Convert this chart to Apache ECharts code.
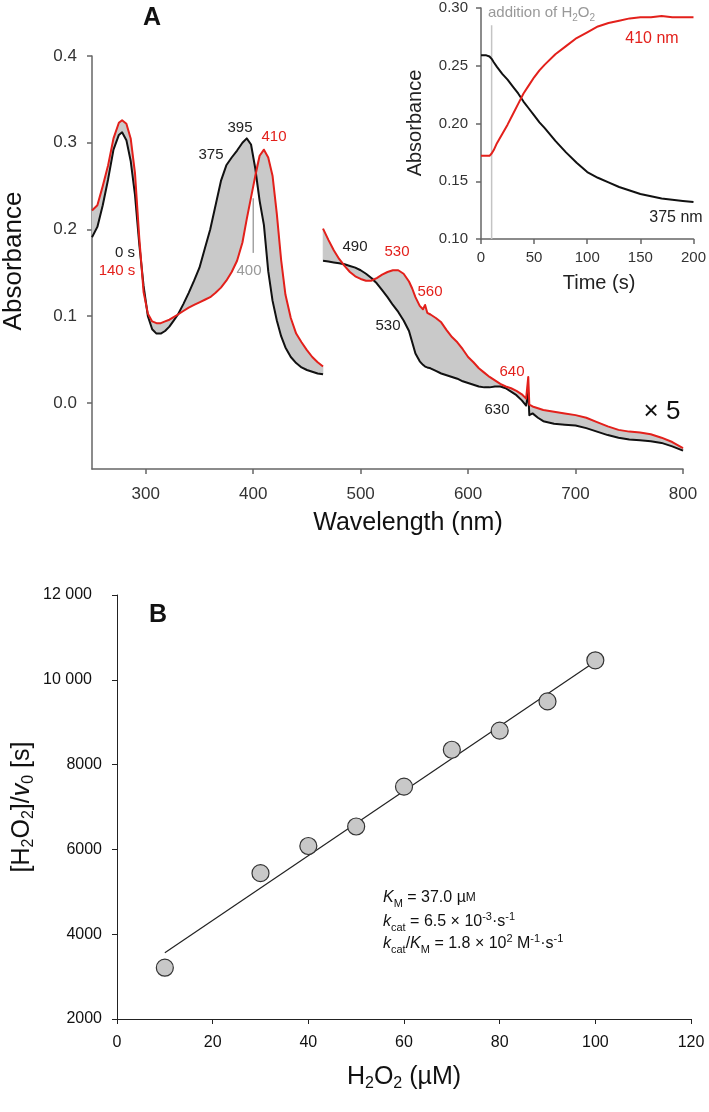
<!DOCTYPE html>
<html><head><meta charset="utf-8">
<script src="https://cdn.jsdelivr.net/npm/echarts@6/dist/echarts.min.js"></script>
<style>html,body{margin:0;padding:0;background:#fff}#c{width:709px;height:1112px}</style>
</head><body><div id="c"></div>
<script>
// ---------- Panel A: spectra (left section, 250-465 nm) ----------
const wlLeft = [250,255,260,265,270,275,278,282,286,290,294,298,302,306,310,314,318,322,326,330,
  335,340,345,350,355,360,365,370,375,380,385,390,394,398,402,406,410,414,418,422,426,430,
  435,440,445,450,455,460,465];
const black0sLeft = [0.191,0.203,0.228,0.258,0.292,0.309,0.312,0.303,0.279,0.240,0.183,0.135,0.100,0.085,0.080,0.080,0.083,0.088,0.095,0.102,
  0.114,0.127,0.141,0.156,0.178,0.200,0.228,0.256,0.274,0.283,0.291,0.300,0.305,0.298,0.270,0.233,0.205,0.152,0.118,0.095,0.077,0.064,
  0.053,0.046,0.041,0.038,0.036,0.034,0.033];
const red140sLeft = [0.222,0.228,0.250,0.274,0.305,0.323,0.326,0.322,0.305,0.265,0.190,0.128,0.103,0.094,0.092,0.092,0.094,0.096,0.099,0.102,
  0.106,0.110,0.113,0.116,0.119,0.122,0.127,0.133,0.141,0.151,0.164,0.185,0.212,0.237,0.262,0.285,0.292,0.283,0.262,0.218,0.165,0.125,
  0.098,0.080,0.070,0.061,0.053,0.047,0.042];
// ---------- Panel A: spectra (right section, x5, 465-800 nm) ----------
const wlRight = [465,470,475,480,485,490,495,500,505,510,515,520,525,530,535,540,545,548,551,555,558,560,562,
  565,570,575,580,585,590,595,600,605,610,615,620,625,630,635,640,645,650,654,656,657,660,665,670,
  680,690,700,710,720,730,740,750,760,770,780,790,800];
const black0sRight = [0.164,0.163,0.162,0.161,0.160,0.158,0.156,0.153,0.149,0.144,0.138,0.130,0.122,0.113,0.105,0.095,0.083,0.070,0.057,0.048,0.044,0.042,0.041,
  0.040,0.037,0.034,0.032,0.030,0.028,0.025,0.023,0.021,0.019,0.018,0.018,0.019,0.019,0.017,0.013,0.009,0.003,-0.003,0.012,-0.014,-0.012,-0.017,-0.021,
  -0.024,-0.025,-0.026,-0.029,-0.033,-0.037,-0.040,-0.042,-0.043,-0.044,-0.046,-0.050,-0.055];
const red140sRight = [0.201,0.188,0.176,0.166,0.158,0.151,0.146,0.143,0.141,0.141,0.144,0.148,0.151,0.153,0.153,0.149,0.140,0.132,0.122,0.112,0.108,0.113,0.104,
  0.102,0.098,0.093,0.084,0.076,0.070,0.062,0.053,0.047,0.040,0.035,0.030,0.026,0.022,0.019,0.017,0.014,0.010,0.005,0.030,-0.002,-0.004,-0.006,-0.008,
  -0.010,-0.012,-0.014,-0.017,-0.022,-0.027,-0.031,-0.033,-0.034,-0.036,-0.040,-0.045,-0.052];
const wlTicks = [300,400,500,600,700,800];
const absTicks = [0,0.1,0.2,0.3,0.4];
// annotation leader at 400 nm
const lead400X = [400,400];
const lead400Y = [0.236,0.173];

// ---------- Panel A inset: kinetics ----------
const timeS = [0,5,8,10,12,15,20,25,30,35,40,45,50,55,60,70,80,90,100,110,120,130,140,150,160,170,180,190,200];
const abs375 = [0.259,0.259,0.258,0.256,0.253,0.249,0.243,0.238,0.232,0.226,0.219,0.213,0.207,0.201,0.196,0.185,0.175,0.166,0.158,0.153,0.149,0.145,0.142,0.139,0.137,0.135,0.134,0.133,0.132];
const abs410 = [0.172,0.172,0.172,0.174,0.177,0.183,0.191,0.199,0.208,0.217,0.226,0.233,0.240,0.246,0.251,0.260,0.267,0.274,0.279,0.284,0.287,0.289,0.291,0.292,0.292,0.293,0.292,0.292,0.292];
const additionT = [10,10];
const additionY = [0.10,0.285];

// ---------- Panel B ----------
const h2o2uM = [10,30,40,50,60,70,80,90,100];
const ratioS = [3210,5440,6080,6540,7480,8350,8800,9490,10460];
const fitX = [10,100];
const fitY = [3560,10430];
const ratioTicks = [2000,4000,6000,8000,10000,12000];
const ratioTickLabels = ['2000','4000','6000','8000','10 000','12 000'];

const FF = '"Liberation Sans", Arial, Helvetica, sans-serif';
const RED = '#e3201b';
const zip = (xs, ys) => xs.map((x, i) => [x, ys[i]]);

function ax(color, width, extra) {
  const base = {
    type: 'value',
    axisLine: {show: true, onZero: false, lineStyle: {color: color, width: width}},
    axisTick: {show: true, inside: false, length: 5, lineStyle: {color: color, width: width}},
    splitLine: {show: false},
    axisLabel: {fontFamily: FF, color: '#222'}
  };
  for (const k in extra) {
    if (typeof extra[k] === 'object' && base[k] && !Array.isArray(extra[k])) base[k] = Object.assign({}, base[k], extra[k]);
    else base[k] = extra[k];
  }
  return base;
}

const lineS = (xi, yi, data, color, width, z) => ({
  type: 'line', xAxisIndex: xi, yAxisIndex: yi, data: data, showSymbol: false, symbol: 'none',
  lineStyle: {color: color, width: width, join: 'round'}, z: z || 3, animation: false, silent: true
});

// grey fan of intermediate spectra: filled band between the 0 s and 140 s spectra
function bandSeries(xs, a, b) {
  return {
    type: 'custom', coordinateSystem: 'cartesian2d', xAxisIndex: 0, yAxisIndex: 0,
    data: xs.map((x, i) => [x, Math.min(a[i], b[i]), Math.max(a[i], b[i])]),
    encode: {x: 0, y: [1, 2]},
    renderItem: function (params, api) {
      if (params.dataIndex !== 0) return null;
      const top = [], bot = [];
      for (let i = 0; i < xs.length; i++) {
        top.push(api.coord([xs[i], Math.max(a[i], b[i])]));
        bot.push(api.coord([xs[i], Math.min(a[i], b[i])]));
      }
      return {type: 'polygon', shape: {points: top.concat(bot.reverse())},
        style: {fill: '#c9c9c9', stroke: '#c9c9c9', lineWidth: 0.6}};
    },
    z: 1, silent: true, animation: false
  };
}

const txt = (x, y, text, size, color, extra) => ({
  type: 'text', x: x, y: y, z: 50,
  style: Object.assign({text: text, fontSize: size, fontFamily: FF, fill: color || '#222', align: 'center', verticalAlign: 'middle'}, extra || {})
});

const option = {
  backgroundColor: '#fff',
  animation: false,
  grid: [
    {left: 92, top: 56, width: 591, height: 413},
    {left: 481, top: 8, width: 214, height: 231},
    {left: 117, top: 595, width: 574, height: 424}
  ],
  xAxis: [
    ax('#666', 1.5, {gridIndex: 0, min: 250, max: 800,
      axisTick: {customValues: wlTicks},
      axisLabel: {customValues: wlTicks, fontSize: 17, margin: 17, color: '#333'}}),
    ax('#666', 1.5, {gridIndex: 1, min: 0, max: 200, interval: 50,
      axisLabel: {fontSize: 15, margin: 11, color: '#333'}}),
    ax('#222', 1, {gridIndex: 2, min: 0, max: 120, interval: 20,
      axisLabel: {fontSize: 16, margin: 16, color: '#111'}})
  ],
  yAxis: [
    ax('#666', 1.5, {gridIndex: 0, min: -0.0761, max: 0.4,
      axisTick: {customValues: absTicks},
      axisLabel: {customValues: absTicks, fontSize: 17, margin: 15, color: '#333', formatter: v => v.toFixed(1)}}),
    ax('#666', 1.5, {gridIndex: 1, min: 0.10, max: 0.30, interval: 0.05,
      axisLabel: {fontSize: 15, margin: 13, color: '#333', formatter: v => v.toFixed(2)}}),
    ax('#222', 1, {gridIndex: 2, min: 2000, max: 12000, interval: 2000,
      axisLabel: {fontSize: 16, margin: 15, color: '#111',
        rich: {w: {fontSize: 16, color: '#111', fontFamily: FF, padding: [0, 10, 0, 0]}},
        formatter: v => { const i = ratioTicks.indexOf(v); if (i < 0) return ''; const s = ratioTickLabels[i]; return s.length > 4 ? '{w|' + s + '}' : s; }}})
  ],
  series: [
    bandSeries(wlLeft, black0sLeft, red140sLeft),
    bandSeries(wlRight, black0sRight, red140sRight),
    lineS(0, 0, zip(wlLeft, black0sLeft), '#111', 2, 3),
    lineS(0, 0, zip(wlRight, black0sRight), '#111', 2, 3),
    lineS(0, 0, zip(wlLeft, red140sLeft), RED, 2, 4),
    lineS(0, 0, zip(wlRight, red140sRight), RED, 2, 4),
    lineS(0, 0, zip(lead400X, lead400Y), '#777', 1, 5),
    lineS(1, 1, zip(additionT, additionY), '#c4c4c4', 1.5, 2),
    lineS(1, 1, zip(timeS, abs375), '#111', 2, 3),
    lineS(1, 1, zip(timeS, abs410), RED, 2, 4),
    lineS(2, 2, zip(fitX, fitY), '#222', 1.2, 2),
    {type: 'scatter', xAxisIndex: 2, yAxisIndex: 2, data: zip(h2o2uM, ratioS), symbol: 'circle', symbolSize: 17,
      itemStyle: {color: '#c8c8c8', borderColor: '#333', borderWidth: 1.2, opacity: 1}, z: 4, animation: false, silent: true}
  ],
  graphic: [
    // Panel A
    txt(152, 18, 'A', 25, '#111', {fontWeight: 'bold'}),
    Object.assign(txt(14, 261, 'Absorbance', 26, '#111'), {rotation: Math.PI / 2}),
    txt(408, 523, 'Wavelength (nm)', 25, '#111'),
    txt(240, 128, '395', 15, '#222'),
    txt(274, 137, '410', 15, RED),
    txt(211, 155, '375', 15, '#222'),
    txt(125, 253, '0 s', 15, '#222'),
    txt(117, 271, '140 s', 15, RED),
    txt(249, 271, '400', 15, '#999'),
    txt(355, 247, '490', 15, '#222'),
    txt(397, 252, '530', 15, RED),
    txt(430, 292, '560', 15, RED),
    txt(388, 326, '530', 15, '#222'),
    txt(512, 372, '640', 15, RED),
    txt(497, 410, '630', 15, '#222'),
    txt(662, 412, '× 5', 26, '#111'),
    // Inset
    Object.assign(txt(415, 123, 'Absorbance', 20, '#222'), {rotation: Math.PI / 2}),
    txt(599, 283, 'Time (s)', 20, '#222'),
    txt(652, 39, '410 nm', 16, RED),
    txt(676, 218, '375 nm', 16, '#222'),
    {type: 'text', x: 488, y: 13, z: 50, style: {
      text: '{n|addition of H}{s|2}{n|O}{s|2}', align: 'left', verticalAlign: 'middle', fill: '#999', fontFamily: FF,
      rich: {n: {fontSize: 15, fill: '#999', fontFamily: FF, lineHeight: 20}, s: {fontSize: 10, fill: '#999', fontFamily: FF, lineHeight: 20, verticalAlign: 'bottom'}}}},
    // Panel B
    txt(158, 615, 'B', 25, '#111', {fontWeight: 'bold'}),
    {type: 'text', x: 404, y: 1077, z: 50, style: {
      text: '{n|H}{s|2}{n|O}{s|2}{n| (µM)}', align: 'center', verticalAlign: 'middle', fontFamily: FF,
      rich: {n: {fontSize: 25, fill: '#111', fontFamily: FF, lineHeight: 30}, s: {fontSize: 16, fill: '#111', fontFamily: FF, lineHeight: 30, verticalAlign: 'bottom'}}}},
    {type: 'text', x: 22, y: 807, z: 50, rotation: Math.PI / 2, style: {
      text: '{n|[H}{s|2}{n|O}{s|2}{n|]/}{i|v}{s|0}{n| [s]}', align: 'center', verticalAlign: 'middle', fontFamily: FF,
      rich: {n: {fontSize: 25, fill: '#111', fontFamily: FF, lineHeight: 30}, i: {fontSize: 25, fill: '#111', fontFamily: FF, fontStyle: 'italic', lineHeight: 30},
        s: {fontSize: 16, fill: '#111', fontFamily: FF, lineHeight: 30, verticalAlign: 'bottom'}}}},
    {type: 'text', x: 383, y: 898, z: 50, style: {
      text: '{i|K}{s|M}{n| = 37.0 µ}{m|M}', align: 'left', verticalAlign: 'middle', fontFamily: FF,
      rich: {n: {fontSize: 16, fill: '#111', fontFamily: FF, lineHeight: 22}, i: {fontSize: 16, fill: '#111', fontFamily: FF, fontStyle: 'italic', lineHeight: 22},
        m: {fontSize: 12, fill: '#111', fontFamily: FF, lineHeight: 22, verticalAlign: 'middle'},
        s: {fontSize: 11, fill: '#111', fontFamily: FF, lineHeight: 22, verticalAlign: 'bottom'}}}},
    {type: 'text', x: 383, y: 922, z: 50, style: {
      text: '{i|k}{s|cat}{n| = 6.5 × 10}{p|-3}{n|·s}{p|-1}', align: 'left', verticalAlign: 'middle', fontFamily: FF,
      rich: {n: {fontSize: 16, fill: '#111', fontFamily: FF, lineHeight: 22}, i: {fontSize: 16, fill: '#111', fontFamily: FF, fontStyle: 'italic', lineHeight: 22},
        s: {fontSize: 11, fill: '#111', fontFamily: FF, lineHeight: 22, verticalAlign: 'bottom'},
        p: {fontSize: 11, fill: '#111', fontFamily: FF, lineHeight: 22, verticalAlign: 'top'}}}},
    {type: 'text', x: 383, y: 944, z: 50, style: {
      text: '{i|k}{s|cat}{n|/}{i|K}{s|M}{n| = 1.8 × 10}{p|2}{n| M}{p|-1}{n|·s}{p|-1}', align: 'left', verticalAlign: 'middle', fontFamily: FF,
      rich: {n: {fontSize: 16, fill: '#111', fontFamily: FF, lineHeight: 22}, i: {fontSize: 16, fill: '#111', fontFamily: FF, fontStyle: 'italic', lineHeight: 22},
        s: {fontSize: 11, fill: '#111', fontFamily: FF, lineHeight: 22, verticalAlign: 'bottom'},
        p: {fontSize: 11, fill: '#111', fontFamily: FF, lineHeight: 22, verticalAlign: 'top'}}}}
  ]
};

const chart = echarts.init(document.getElementById('c'), null, {renderer: 'canvas', width: 709, height: 1112});
chart.setOption(option);
</script></body></html>
